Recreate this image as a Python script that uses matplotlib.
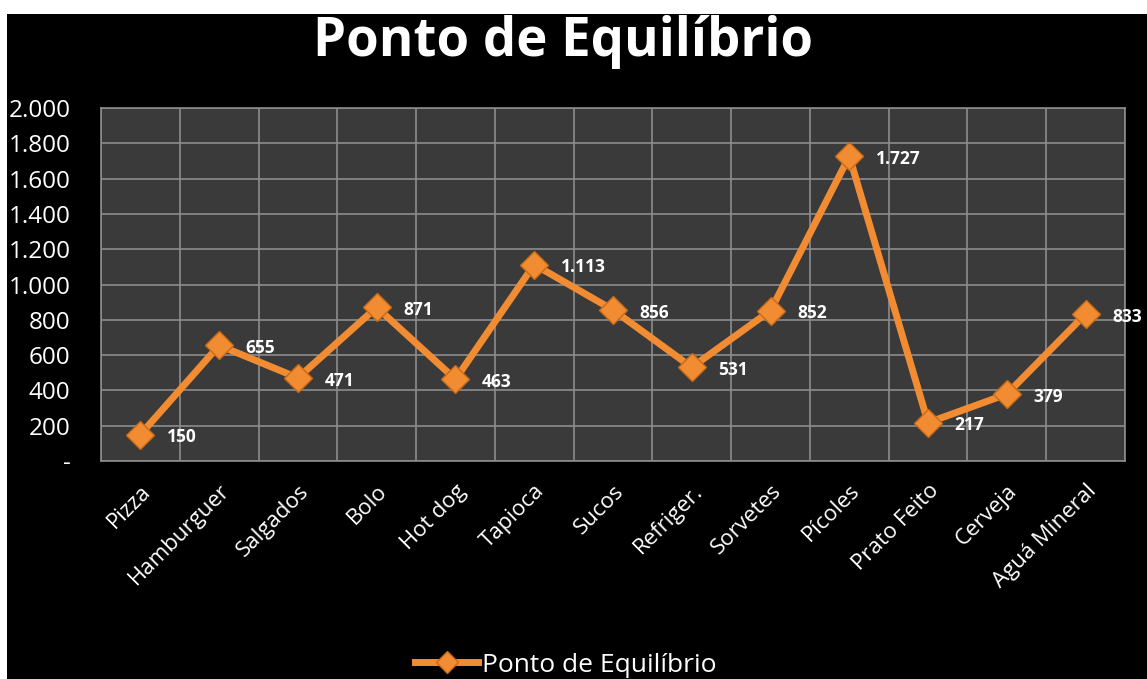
import matplotlib
matplotlib.use('Agg')
import matplotlib.pyplot as plt
from matplotlib.patches import Rectangle
from matplotlib.ticker import FuncFormatter

produtos = ['Pizza', 'Hamburguer', 'Salgados', 'Bolo', 'Hot dog', 'Tapioca', 'Sucos',
            'Refriger.', 'Sorvetes', 'Pícoles', 'Prato Feito', 'Cerveja', 'Aguá Mineral']
equilibrio = [150, 655, 471, 871, 463, 1113, 856, 531, 852, 1727, 217, 379, 833]
y_ticks = [0, 200, 400, 600, 800, 1000, 1200, 1400, 1600, 1800, 2000]

laranja = '#f28c33'
fonte = 'Open Sans'


def milhar(v, pos=None):
    if v == 0:
        return '-'
    return '{:,.0f}'.format(v).replace(',', '.')


W, H = 1147, 679
fig = plt.figure(figsize=(W / 100, H / 100), dpi=100)
fig.patch.set_facecolor('white')
# fundo preto (a imagem tem uma borda branca em cima e a esquerda)
fig.patches.append(Rectangle((7 / W, 0), 1, (H - 14) / H, transform=fig.transFigure,
                             facecolor='black', edgecolor='none', zorder=-5))

ax = fig.add_axes([101 / W, 1 - 461 / H, (1125 - 101) / W, (461 - 108) / H])
ax.set_facecolor('#3a3a3a')

x = list(range(len(produtos)))
ax.plot(x, equilibrio, color=laranja, linewidth=5, marker='D', markersize=14,
        markerfacecolor=laranja, markeredgecolor='#c86a18', markeredgewidth=1,
        label='Ponto de Equilíbrio', zorder=3, solid_joinstyle='round')

for xi, v in zip(x, equilibrio):
    ax.annotate(milhar(v), (xi, v), xytext=(19, -2), textcoords='offset points',
                color='white', fontsize=12.5, fontweight='bold', family=fonte,
                ha='left', va='center', annotation_clip=False)

ax.set_xlim(-0.5, len(produtos) - 0.5)
ax.set_ylim(0, 2000)
ax.set_yticks(y_ticks)
ax.yaxis.set_major_formatter(FuncFormatter(milhar))
ax.set_xticks([i - 0.5 for i in range(len(produtos) + 1)], minor=False)
ax.set_xticklabels([])
ax.set_xticks(x, minor=True)
ax.set_xticklabels(produtos, minor=True, rotation=45, ha='right', rotation_mode='anchor',
                   color='white', fontsize=16, family=fonte)
ax.tick_params(axis='x', which='both', length=0, pad=14)
ax.tick_params(axis='y', length=0, pad=22, colors='white', labelsize=17.5)
for lbl in ax.get_yticklabels():
    lbl.set_family(fonte)

ax.grid(True, which='major', color='#8c8c8c', linewidth=1.2)
ax.set_axisbelow(True)
for s in ax.spines.values():
    s.set_color('#8c8c8c')
    s.set_linewidth(1.2)

fig.text(563 / W, 1 - 42 / H, 'Ponto de Equilíbrio', ha='center', va='center',
         color='white', fontsize=38, fontweight='bold', family=fonte)

leg = fig.legend(loc='center', bbox_to_anchor=(566 / W, 1 - 665 / H), frameon=False,
                 prop={'family': fonte, 'size': 19}, labelcolor='white',
                 handlelength=2.4, handletextpad=0.15, markerscale=0.8)

fig.savefig('out.png', dpi=100, facecolor=fig.get_facecolor())
